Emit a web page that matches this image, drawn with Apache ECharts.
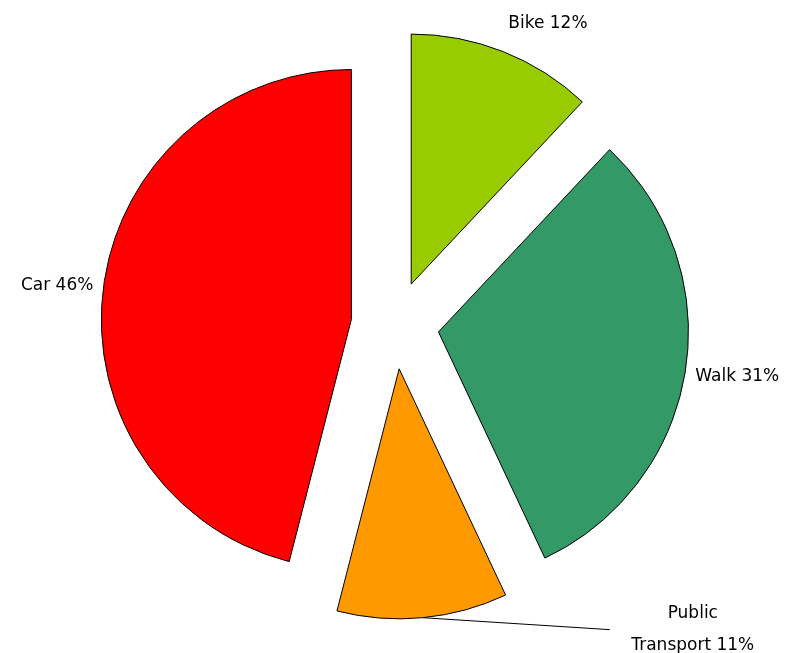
<!DOCTYPE html>
<html>
<head>
<meta charset="utf-8">
<script src="https://cdn.jsdelivr.net/npm/echarts@6/dist/echarts.min.js"></script>
<style>
  html, body { margin: 0; padding: 0; background: #ffffff; }
  #chart { width: 801px; height: 653px; }
</style>
</head>
<body>
<div id="chart"></div>
<script>
// ---- data ----
const categories = ['Bike', 'Walk', 'Public\nTransport', 'Car'];
const shares = [12, 31, 11, 46];

// ---- styling (kept separate from data) ----
const palette = ['#99CC00', '#339966', '#FF9900', '#FF0000'];
const lineLen = [30, 5, 12, 5];
const lineLen2 = [0, 0, 186, 0];
const showLine = [false, false, true, false];
const labelNudge = [[-11, 0], [0, 5], null, [0, -2]];

const chart = echarts.init(document.getElementById('chart'), null, { renderer: 'canvas' });

const seriesData = categories.map((name, i) => ({
  name: name,
  value: shares[i],
  selected: true,
  itemStyle: { color: palette[i] },
  labelLine: { show: showLine[i], length: lineLen[i], length2: lineLen2[i] }
}));

chart.setOption({
  animation: false,
  backgroundColor: '#ffffff',
  series: [{
    type: 'pie',
    center: [395, 325],
    radius: 250,
    startAngle: 90,
    clockwise: true,
    selectedMode: 'multiple',
    selectedOffset: 44,
    avoidLabelOverlap: false,
    emphasis: { disabled: true },
    select: { disabled: false, itemStyle: { borderColor: '#000', borderWidth: 1 } },
    itemStyle: { borderColor: '#000000', borderWidth: 1 },
    label: {
      show: true,
      position: 'outside',
      distanceToLabelLine: 5,
      color: '#000000',
      fontFamily: 'DejaVu Sans',
      fontSize: 17,
      formatter: function (p) {
        const lines = (p.name + ' ' + p.value + '%').split('\n');
        if (lines.length > 1) {
          return lines.map(l => '{c|' + l + '}').join('\n');
        }
        return lines[0];
      },
      rich: {
        c: { width: 156, align: 'center', lineHeight: 32, fontSize: 17, fontFamily: 'DejaVu Sans', color: '#000000' }
      }
    },
    labelLine: {
      lineStyle: { color: '#000000', width: 1 }
    },
    labelLayout: function (params) {
      const n = labelNudge[params.dataIndex];
      if (n) return { dx: n[0], dy: n[1] };
      const pts = params.labelLinePoints;
      if (pts && pts.length === 3) {
        // straight guide line from the arc to the end of the line
        return { labelLinePoints: [pts[0].slice(), pts[0].slice(), pts[2].slice()] };
      }
      return null;
    },
    data: seriesData
  }]
});
</script>
</body>
</html>
